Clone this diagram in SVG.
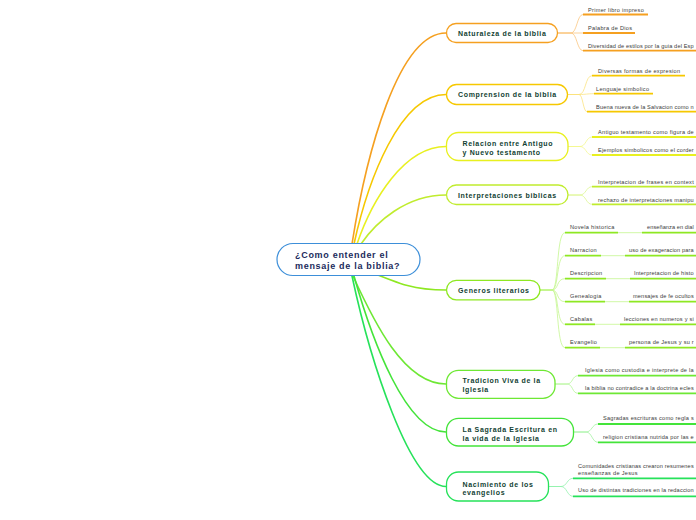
<svg xmlns="http://www.w3.org/2000/svg" width="696" height="520" viewBox="0 0 696 520">
<style>
.bg{fill:#ffffff}
.main{fill:none;stroke-width:1.6;stroke-linecap:round}
.sub{fill:none;stroke-width:1;opacity:0.75}
.ul{fill:none;stroke-width:1.8}
.box{fill:#ffffff;stroke-width:1.3}
.nt{font-family:"Liberation Sans",Arial,sans-serif;font-weight:bold;font-size:7px;letter-spacing:0.65px;fill:#123f33}
.st{font-family:"Liberation Sans",Arial,sans-serif;font-size:5.6px;letter-spacing:0.3px;fill:#3a3a3a}
.rt{font-family:"Liberation Sans",Arial,sans-serif;font-weight:bold;font-size:9px;letter-spacing:0.7px;fill:#1b2b5c}
.c1{stroke:#f5a020}.l1{stroke:#fac37a}
.c2{stroke:#f6c800}.l2{stroke:#fbe27a}
.c3{stroke:#e8f020}.l3{stroke:#f3f78a}
.c4{stroke:#c0ec2e}.l4{stroke:#dbf68a}
.c5{stroke:#8ee822}.l5{stroke:#c2f58a}
.c6{stroke:#6ee834}.l6{stroke:#b0f594}
.c7{stroke:#44e43a}.l7{stroke:#9ef29c}
.c8{stroke:#26e25a}.l8{stroke:#8ef2aa}
</style>
<rect class="bg" x="0" y="0" width="696" height="520"/>
<g id="connectors">
<path class="main c1" d="M352,244 C366,155 398,33 446,33"/>
<path class="main c2" d="M354,244 C368,180 400,94.5 446,94.5"/>
<path class="main c3" d="M357,244 C372,200 404,146.5 446,146.5"/>
<path class="main c4" d="M361,244 C376,222 406,195 446,195"/>
<path class="main c5" d="M356,266 C400,284 412,290 446,290"/>
<path class="main c6" d="M353,276 C374,322 404,384 446,384"/>
<path class="main c7" d="M354,276 C372,340 406,432 446,432"/>
<path class="main c8" d="M352,276 C370,360 410,486.5 446,486.5"/>
<path class="sub l1" d="M557.5,33 H571 C577,33 577,14.5 583,14.5"/>
<path class="sub l1" d="M557.5,33 H583"/>
<path class="sub l1" d="M557.5,33 H571 C577,33 577,50.7 583,50.7"/>
<path class="sub l2" d="M567.5,94.5 H579 C586,94.5 585,75.7 592,75.7"/>
<path class="sub l2" d="M567.5,94.5 H579 C586,94.5 587,93.7 594,93.7"/>
<path class="sub l2" d="M567.5,94.5 H579 C583,94.5 583,111.7 587,111.7"/>
<path class="sub l3" d="M568,146.5 H580 C586,146.5 586,137 592,137"/>
<path class="sub l3" d="M568,146.5 H580 C586,146.5 586,155 592,155"/>
<path class="sub l4" d="M568,195 H580 C586,195 586,186.7 592,186.7"/>
<path class="sub l4" d="M568,195 H580 C586,195 586,204.3 592,204.3"/>
<path class="sub l5" d="M540,290 H552 C559,290 556,232.7 565,232.7"/>
<path class="sub l5" d="M540,290 H552 C559,290 556,255.7 565,255.7"/>
<path class="sub l5" d="M540,290 H552 C559,290 556,278.7 565,278.7"/>
<path class="sub l5" d="M540,290 H552 C559,290 556,301.7 565,301.7"/>
<path class="sub l5" d="M540,290 H552 C559,290 556,324.3 565,324.3"/>
<path class="sub l5" d="M540,290 H552 C559,290 556,347.7 565,347.7"/>
<path class="sub l5" d="M618,232.7 H642"/>
<path class="sub l5" d="M601,255.7 H625"/>
<path class="sub l5" d="M606,278.7 H630"/>
<path class="sub l5" d="M605,301.7 H629"/>
<path class="sub l5" d="M595,324.3 H620"/>
<path class="sub l5" d="M600,347.7 H625"/>
<path class="sub l6" d="M555,384 H567 C573,384 572,375.7 578,375.7"/>
<path class="sub l6" d="M555,384 H567 C573,384 572,393.3 578,393.3"/>
<path class="sub l7" d="M573.5,432 H586 C592,432 592,424 598,424"/>
<path class="sub l7" d="M573.5,432 H586 C592,432 592,442.3 598,442.3"/>
<path class="sub l8" d="M548.5,486.5 H561 C567,486.5 567,478.3 573,478.3"/>
<path class="sub l8" d="M548.5,486.5 H561 C567,486.5 567,496.3 573,496.3"/>
</g>
<g id="root">
<rect x="277" y="243.5" width="143" height="32" rx="16" fill="#ffffff" stroke="#3d8fd9" stroke-width="1.2"/>
<text class="rt" x="295" y="258">¿Como entender el</text>
<text class="rt" x="295" y="268.5">mensaje de la biblia?</text>
</g>
<g id="n1">
<rect class="box c1" x="446.5" y="23.5" width="111" height="19" rx="9.5"/>
<text class="nt" x="458" y="35.8">Naturaleza de la biblia</text>
</g>
<g id="n1a"><text class="st" x="588" y="11.5">Primer libro impreso</text><path class="ul c1" d="M583,14.5 H648"/></g>
<g id="n1b"><text class="st" x="588" y="30">Palabra de Dios</text><path class="ul c1" d="M583,33 H635"/></g>
<g id="n1c"><text class="st" x="588" y="47.5" textLength="106">Diversidad de estilos por la guia del Esp</text><path class="ul c1" d="M583,50.7 H696"/></g>
<g id="n2">
<rect class="box c2" x="446.5" y="84.5" width="121" height="20" rx="10"/>
<text class="nt" x="458" y="97">Comprension de la biblia</text>
</g>
<g id="n2a"><text class="st" x="598" y="72.5">Diversas formas de expresion</text><path class="ul c2" d="M592,75.7 H685"/></g>
<g id="n2b"><text class="st" x="596" y="90.5">Lenguaje simbolico</text><path class="ul c2" d="M594,93.7 H653"/></g>
<g id="n2c"><text class="st" x="596" y="108.5" textLength="98">Buena nueva de la Salvacion como n</text><path class="ul c2" d="M587,111.7 H696"/></g>
<g id="n3">
<rect class="box c3" x="446.5" y="132.5" width="121.5" height="28" rx="12"/>
<text class="nt" x="462.5" y="145.5">Relacion entre Antiguo</text>
<text class="nt" x="462.5" y="154.5">y Nuevo testamento</text>
</g>
<g id="n3a"><text class="st" x="598" y="134" textLength="96">Antiguo testamento como figura de</text><path class="ul c3" d="M592,137 H696"/></g>
<g id="n3b"><text class="st" x="598" y="152" textLength="96">Ejemplos simbolicos como el corder</text><path class="ul c3" d="M592,155 H696"/></g>
<g id="n4">
<rect class="box c4" x="446.5" y="185" width="121.5" height="19.5" rx="9.75"/>
<text class="nt" x="458" y="197.5">Interpretaciones biblicas</text>
</g>
<g id="n4a"><text class="st" x="598" y="183.5" textLength="96">Interpretacion de frases en context</text><path class="ul c4" d="M592,186.7 H696"/></g>
<g id="n4b"><text class="st" x="598" y="201.5" textLength="96">rechazo de interpretaciones manipu</text><path class="ul c4" d="M592,204.3 H696"/></g>
<g id="n5">
<rect class="box c5" x="446.5" y="280.3" width="93.5" height="19.5" rx="9.75"/>
<text class="nt" x="458" y="292.8">Generos literarios</text>
</g>
<g id="n5a"><text class="st" x="570" y="228.5">Novela historica</text><path class="ul c5" d="M565,232.7 H618"/></g>
<g id="n5a1"><text class="st" x="647" y="228.5" textLength="47">enseñanza en dial</text><path class="ul c5" d="M642,232.7 H696"/></g>
<g id="n5b"><text class="st" x="570" y="251.5">Narracion</text><path class="ul c5" d="M565,255.7 H601"/></g>
<g id="n5b1"><text class="st" x="629" y="251.5" textLength="65">uso de exageracion para</text><path class="ul c5" d="M625,255.7 H696"/></g>
<g id="n5c"><text class="st" x="570" y="274.5">Descripcion</text><path class="ul c5" d="M565,278.7 H606"/></g>
<g id="n5c1"><text class="st" x="634" y="274.5" textLength="60">Interpretacion de histo</text><path class="ul c5" d="M630,278.7 H696"/></g>
<g id="n5d"><text class="st" x="570" y="297.5">Genealogia</text><path class="ul c5" d="M565,301.7 H605"/></g>
<g id="n5d1"><text class="st" x="633" y="297.5" textLength="61">mensajes de fe ocultos</text><path class="ul c5" d="M629,301.7 H696"/></g>
<g id="n5e"><text class="st" x="570" y="320.5">Cabalas</text><path class="ul c5" d="M565,324.3 H595"/></g>
<g id="n5e1"><text class="st" x="624" y="320.5" textLength="70">lecciones en numeros y si</text><path class="ul c5" d="M620,324.3 H696"/></g>
<g id="n5f"><text class="st" x="570" y="344">Evangelio</text><path class="ul c5" d="M565,347.7 H600"/></g>
<g id="n5f1"><text class="st" x="629" y="344" textLength="65">persona de Jesus y su r</text><path class="ul c5" d="M625,347.7 H696"/></g>
<g id="n6">
<rect class="box c6" x="446.5" y="370.3" width="108.5" height="28" rx="12"/>
<text class="nt" x="462.5" y="383.2">Tradicion Viva de la</text>
<text class="nt" x="462.5" y="392">Iglesia</text>
</g>
<g id="n6a"><text class="st" x="585" y="372" textLength="109">Iglesia como custodia e interprete de la</text><path class="ul c6" d="M578,375.7 H696"/></g>
<g id="n6b"><text class="st" x="585" y="390" textLength="109">la biblia no contradice a la doctrina ecles</text><path class="ul c6" d="M578,393.3 H696"/></g>
<g id="n7">
<rect class="box c7" x="446.5" y="418.3" width="127" height="27.7" rx="12"/>
<text class="nt" x="462.5" y="431.5">La Sagrada Escritura en</text>
<text class="nt" x="462.5" y="440.5">la vida de la Iglesia</text>
</g>
<g id="n7a"><text class="st" x="603" y="420.3" textLength="91">Sagradas escrituras como regla s</text><path class="ul c7" d="M598,424 H696"/></g>
<g id="n7b"><text class="st" x="603" y="438.5" textLength="91">religion cristiana nutrida por las e</text><path class="ul c7" d="M598,442.3 H696"/></g>
<g id="n8">
<rect class="box c8" x="446.5" y="472" width="102" height="29" rx="12"/>
<text class="nt" x="462.5" y="486.5">Nacimiento de los</text>
<text class="nt" x="462.5" y="495.3"> evangelios</text>
</g>
<g id="n8a"><text class="st" x="578" y="468" textLength="116">Comunidades cristianas crearon resumenes</text><text class="st" x="578" y="474.5">enseñanzas de Jesus</text><path class="ul c8" d="M573,478.3 H696"/></g>
<g id="n8b"><text class="st" x="578" y="492" textLength="116">Uso de distintas tradiciones en la redaccion</text><path class="ul c8" d="M573,496.3 H696"/></g>
</svg>
